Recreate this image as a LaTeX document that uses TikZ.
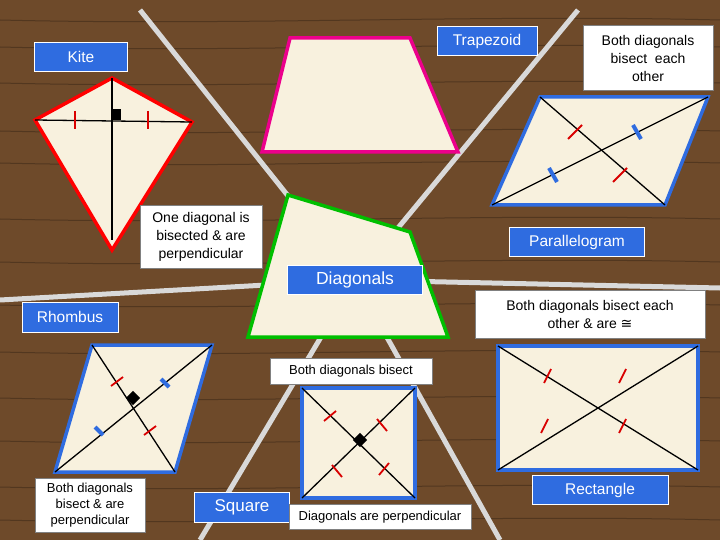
\documentclass[tikz,border=0pt]{standalone}
\usepackage{fontspec}
\setmainfont{Liberation Sans}
\newfontfamily\dejafont{DejaVu Sans}
\definecolor{beige}{HTML}{F8F1DE}
\definecolor{lblue}{HTML}{2F6CE0}
\definecolor{wood}{HTML}{6E4A2A}
\begin{document}
\begin{tikzpicture}[x=1pt,y=-1pt,
 lab/.style={draw=white,line width=1pt,fill=lblue,text=white,font=\fontsize{15.5}{18}\selectfont,inner sep=0pt},
 note/.style={draw=gray,fill=white,font=\fontsize{14}{18}\selectfont,align=center,inner sep=0pt},
 shp/.style={fill=beige,line width=3.5pt},
 dg/.style={line width=1.3pt,black},
 rt/.style={red!85!black,line width=1.8pt},
 bt/.style={lblue,line width=4pt},
 sep/.style={line width=5pt,gray!30}]
\useasboundingbox (0,0) rectangle (720,540);
\fill[wood] (0,0) rectangle (720,540);
\foreach \y in {20,47,83,131,163,219,262,305,352,398,441,487,520}{\draw[black,line width=1pt,opacity=.25] (0,\y) .. controls (240,\y+6) and (480,\y-6) .. (720,\y);}
\coordinate (c) at (355,280);
\draw[sep] (c) -- (140,10);
\draw[sep] (c) -- (578,10);
\draw[sep] (c) -- (0,300);
\draw[sep] (c) -- (720,288);
\draw[sep] (c) -- (200,540);
\draw[sep] (c) -- (500,540);
% kite
\draw[shp,draw=red] (35,120) -- (112,78) -- (192,122) -- (112,250) -- cycle;
\draw[dg] (112,78) -- (112,240); \draw[dg] (35,120) -- (192,122);
\fill (111,109) rectangle (121,120);
\draw[rt] (75,111) -- (75,129); \draw[rt] (148,111) -- (148,129);
\node[lab,minimum width=93pt,minimum height=29pt] (kite) at (81,57) {Kite};
% trapezoid
\draw[shp,draw=magenta] (290,38) -- (410,38) -- (458,152) -- (262,152) -- cycle;
\node[lab,minimum width=100pt,minimum height=29pt] (trap) at (487,41) {Trapezoid};
\node[note,minimum width=130pt,minimum height=65pt] (n1) at (648,58) {Both diagonals\\bisect\ \ each\\other};
% parallelogram
\draw[shp,draw=lblue] (540,97) -- (708,97) -- (665,205) -- (492,205) -- cycle;
\draw[dg] (540,97) -- (665,205); \draw[dg] (492,205) -- (708,97);
\draw[rt] (568,139) -- (582,125); \draw[rt] (613,182) -- (627,168);
\draw[bt] (633,125) -- (641,139); \draw[bt] (549,168) -- (557,182);
\node[lab,minimum width=135pt,minimum height=28pt] (par) at (577,242) {Parallelogram};
% quadrilateral
\draw[shp,draw=green!75!black] (288,195) -- (410,232) -- (448,337) -- (248,337) -- cycle;
\node[note,minimum width=122pt,minimum height=63pt] (n2) at (201,237) {One diagonal is\\bisected \& are\\perpendicular};
\node[lab,minimum width=135pt,minimum height=29pt,font=\fontsize{17.5}{20}\selectfont] (dia) at (355,280) {Diagonals};
\node[lab,minimum width=96pt,minimum height=30pt] (rho) at (70,317) {Rhombus};
\node[note,minimum width=230pt,minimum height=48pt] (n3) at (590,314) {Both diagonals bisect each\\other \& are {\dejafont ≅}};
% rhombus
\draw[shp,draw=lblue] (92,345) -- (212,345) -- (175,472) -- (55,472) -- cycle;
\draw[dg] (92,345) -- (175,472); \draw[dg] (212,345) -- (55,472);
\fill[rotate around={45:(133,398)}] (128,393) rectangle (138,403);
\draw[rt] (111,386) -- (123,377); \draw[rt] (144,435) -- (156,426);
\draw[bt] (161,379) -- (169,387); \draw[bt] (95,427) -- (103,435);
\node[note,minimum width=162pt,minimum height=26pt,font=\fontsize{13}{16}\selectfont] (n4) at (351,371) {Both diagonals bisect};
% rectangle
\draw[shp,draw=lblue] (498,346) rectangle (698,470);
\draw[dg] (498,346) -- (698,470); \draw[dg] (698,346) -- (498,470);
\draw[rt] (544,383) -- (551,369); \draw[rt] (619,383) -- (626,369);
\draw[rt] (541,433) -- (548,419); \draw[rt] (619,433) -- (626,419);
\node[lab,minimum width=136pt,minimum height=29pt] (rec) at (600,490) {Rectangle};
% square
\draw[shp,draw=lblue] (302,388) rectangle (415,498);
\draw[dg] (302,388) -- (415,498); \draw[dg] (415,388) -- (302,498);
\fill[rotate around={45:(360,440)}] (355,435) rectangle (365,445);
\draw[rt] (324,421) -- (336,411); \draw[rt] (377,419) -- (387,431);
\draw[rt] (332,465) -- (342,477); \draw[rt] (379,475) -- (389,463);
\node[note,minimum width=110pt,minimum height=54pt,font=\fontsize{13}{16}\selectfont] (n5) at (90,505) {Both diagonals\\bisect \& are\\perpendicular};
\node[lab,minimum width=95pt,minimum height=30pt,font=\fontsize{17}{19}\selectfont] (sq) at (242,507) {Square};
\node[note,minimum width=182pt,minimum height=25pt,font=\fontsize{13}{16}\selectfont] (n6) at (380,517) {Diagonals are perpendicular};
\end{tikzpicture}
\end{document}
